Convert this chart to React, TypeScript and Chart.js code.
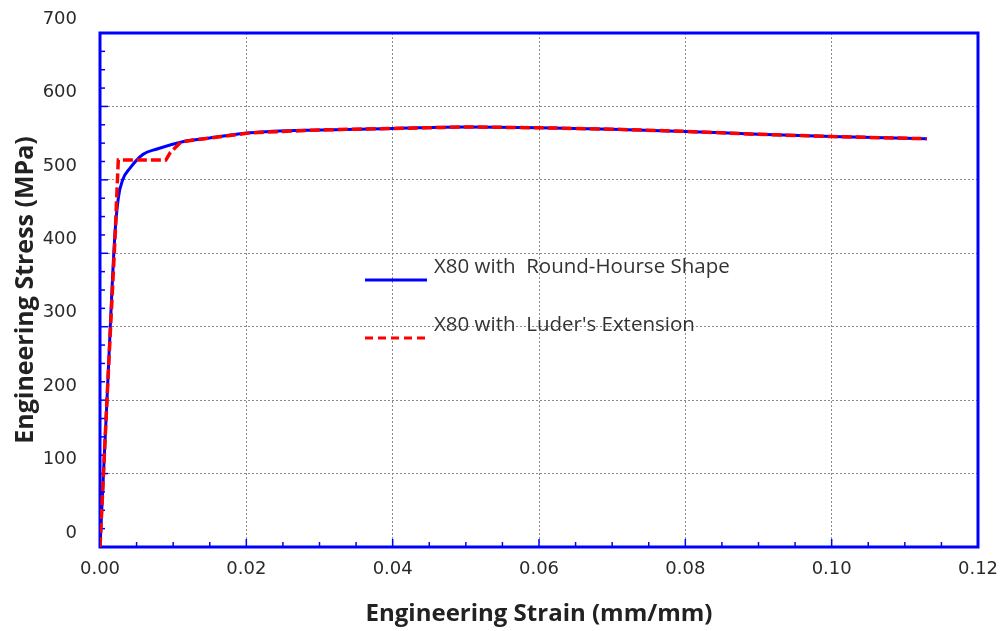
import React, { useEffect, useRef } from "react";
import { Chart, registerables } from "chart.js";

Chart.register(...registerables);

// ---- data ----
const seriesLabels = ["X80 with  Round-Hourse Shape", "X80 with  Luder's Extension"];

const roundHouseStrain = [0, 0.001, 0.002, 0.0025, 0.0031, 0.0041, 0.0059, 0.0078, 0.0113, 0.015, 0.0205, 0.03, 0.04, 0.05, 0.06, 0.07, 0.08, 0.09, 0.1, 0.113];
const roundHouseStress = [0, 210, 420, 475, 500, 516, 535, 542, 552, 557, 564, 568, 570, 572, 571, 569, 566, 562, 559, 556];

const luderStrain = [0, 0.001, 0.00205, 0.0025, 0.005, 0.007, 0.009, 0.0096, 0.0109, 0.0113, 0.015, 0.0205, 0.03, 0.04, 0.05, 0.06, 0.07, 0.08, 0.09, 0.1, 0.113];
const luderStress = [0, 210, 420, 527, 527, 527, 527, 537, 550, 552, 557, 564, 568, 570, 572, 571, 569, 566, 562, 559, 556];

const xTickValues = [0, 0.02, 0.04, 0.06, 0.08, 0.1, 0.12];
const yTickValues = [0, 100, 200, 300, 400, 500, 600, 700];
const xMinorStep = 0.005;
const yMinorStep = 25;

const xTitle = "Engineering Strain (mm/mm)";
const yTitle = "Engineering Stress (MPa)";

const FRAME_BLUE = "#0000ff";
const TEXT = "#2a2a2a";

const frameAndTicks = {
  id: "frameAndTicks",
  beforeDatasetsDraw(chart: any) {
    const { ctx, chartArea, scales } = chart;
    const { left, right, top, bottom } = chartArea;
    const x = scales.x;
    const y = scales.y;
    ctx.save();
    ctx.strokeStyle = FRAME_BLUE;
    ctx.lineWidth = 1.5;
    const nx = Math.round(x.max / xMinorStep);
    for (let i = 1; i < nx; i++) {
      const px = x.getPixelForValue(i * xMinorStep);
      const len = i % 4 === 0 ? 8 : 5;
      ctx.beginPath();
      ctx.moveTo(px, bottom);
      ctx.lineTo(px, bottom - len);
      ctx.stroke();
    }
    const ny = Math.round(y.max / yMinorStep);
    for (let i = 1; i < ny; i++) {
      const py = y.getPixelForValue(i * yMinorStep);
      const len = i % 4 === 0 ? 8 : 5;
      ctx.beginPath();
      ctx.moveTo(left, py);
      ctx.lineTo(left + len, py);
      ctx.stroke();
    }
    ctx.lineWidth = 3;
    ctx.strokeRect(left, top, right - left, bottom - top);
    ctx.restore();
  },
};

const inlineLegend = {
  id: "inlineLegend",
  afterDraw(chart: any) {
    const { ctx } = chart;
    const lineX0 = 365;
    const lineX1 = 427;
    const lineYs = [280, 338];
    const textX = 434;
    const textYs = [267, 325];
    ctx.save();
    chart.data.datasets.forEach((ds: any, i: number) => {
      ctx.beginPath();
      ctx.strokeStyle = ds.borderColor;
      ctx.lineWidth = 3;
      ctx.setLineDash(ds.borderDash ? [8, 5] : []);
      ctx.moveTo(lineX0, lineYs[i]);
      ctx.lineTo(lineX1, lineYs[i]);
      ctx.stroke();
      ctx.setLineDash([]);
      ctx.fillStyle = "#333333";
      ctx.font = "20.5px 'Open Sans'";
      ctx.textBaseline = "middle";
      ctx.textAlign = "left";
      ctx.fillText(ds.label, textX, textYs[i]);
    });
    ctx.restore();
  },
};

export default function App() {
  const ref = useRef<HTMLCanvasElement | null>(null);

  useEffect(() => {
    document.body.style.margin = "0";
    const canvas = ref.current;
    if (!canvas) return;
    const chart = new Chart(canvas, {
      type: "line",
      data: {
        datasets: [
          {
            label: seriesLabels[0],
            data: roundHouseStrain.map((s, i) => ({ x: s, y: roundHouseStress[i] })),
            borderColor: "#0000ff",
            borderWidth: 3,
            pointRadius: 0,
            cubicInterpolationMode: "monotone",
            fill: false,
            order: 2,
          },
          {
            label: seriesLabels[1],
            data: luderStrain.map((s, i) => ({ x: s, y: luderStress[i] })),
            borderColor: "#ff0000",
            borderWidth: 3.5,
            borderDash: [10, 4],
            pointRadius: 0,
            tension: 0,
            fill: false,
            order: 1,
          },
        ],
      },
      options: {
        responsive: false,
        animation: false,
        layout: { padding: { left: 0, top: 33, right: 27, bottom: 0 } },
        plugins: {
          legend: { display: false },
          tooltip: { enabled: false },
        },
        scales: {
          x: {
            type: "linear",
            min: 0,
            max: 0.12,
            afterBuildTicks: (scale: any) => {
              scale.ticks = xTickValues.map((v) => ({ value: v }));
            },
            afterFit: (scale: any) => {
              scale.height = 84;
              scale.paddingLeft = 0;
              scale.paddingRight = 0;
            },
            ticks: {
              padding: 12,
              color: TEXT,
              font: { family: "'DejaVu Sans'", size: 18 },
              callback: (v: any) => Number(v).toFixed(2),
              maxRotation: 0,
            },
            grid: { color: "#8a8a8a", lineWidth: 1, drawTicks: false },
            border: { display: false, dash: [2, 2] },
            title: {
              display: true,
              text: xTitle,
              color: "#222222",
              font: { family: "'Open Sans'", size: 24, weight: "bold" },
              padding: { top: 0, bottom: 2 },
            },
          },
          y: {
            type: "linear",
            min: 0,
            max: 700,
            afterBuildTicks: (scale: any) => {
              scale.ticks = yTickValues.map((v) => ({ value: v }));
            },
            afterFit: (scale: any) => {
              scale.width = 100;
              scale.paddingTop = 0;
              scale.paddingBottom = 0;
            },
            ticks: {
              padding: 23,
              labelOffset: -14,
              color: TEXT,
              font: { family: "'DejaVu Sans'", size: 18 },
            },
            grid: { color: "#8a8a8a", lineWidth: 1, drawTicks: false },
            border: { display: false, dash: [2, 2] },
            title: {
              display: true,
              text: yTitle,
              color: "#222222",
              font: { family: "'Open Sans'", size: 25, weight: "bold" },
              padding: { top: 11, bottom: 0 },
            },
          },
        },
      },
      plugins: [frameAndTicks, inlineLegend],
    } as any);
    return () => chart.destroy();
  }, []);

  return <canvas ref={ref} width={1005} height={631} style={{ display: "block", width: 1005, height: 631 }} />;
}
